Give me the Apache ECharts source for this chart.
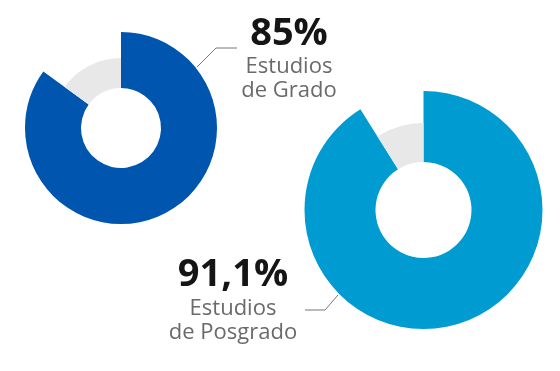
<!DOCTYPE html>
<html><head><meta charset="utf-8">
<script src="https://cdn.jsdelivr.net/npm/echarts@6/dist/echarts.min.js"></script>
<style>html,body{margin:0;padding:0;background:#fff}#c{width:560px;height:371px}</style>
</head><body><div id="c"></div>
<script>
const categories = ['Estudios de Grado', 'Estudios de Posgrado'];
const percentValues = [85, 91.1];
const percentLabels = ['85%', '91,1%'];
const labelLine1 = ['Estudios', 'Estudios'];
const labelLine2 = ['de Grado', 'de Posgrado'];
const colors = ['#0055ae', '#009bd0'];
const restColor = '#e8e8e8';

const chart = echarts.init(document.getElementById('c'), null, {renderer: 'canvas'});
const layouts = [
  {center: [121, 128], inner: 40, outer: 96, rest: 70},
  {center: [423.5, 210], inner: 48, outer: 119, rest: 87}
];
const series = [];
percentValues.forEach((v, i) => {
  const L = layouts[i];
  series.push({
    type: 'pie', silent: true, animation: false, startAngle: 90, clockwise: true,
    center: L.center, radius: [L.inner, L.outer], label: {show: false}, labelLine: {show: false},
    data: [
      {name: categories[i], value: v, itemStyle: {color: colors[i]}},
      {name: 'rest', value: 100 - v, itemStyle: {color: 'rgba(0,0,0,0)'}}
    ]
  });
  series.push({
    type: 'pie', silent: true, animation: false, startAngle: 90, clockwise: true,
    center: L.center, radius: [L.inner, L.rest], label: {show: false}, labelLine: {show: false},
    data: [
      {name: categories[i], value: v, itemStyle: {color: 'rgba(0,0,0,0)'}},
      {name: 'rest', value: 100 - v, itemStyle: {color: restColor}}
    ]
  });
});

const textPos = [
  {x: 289, yPct: 34, y1: 67, y2: 91},
  {x: 233, yPct: 275, y1: 309, y2: 333}
];
const graphic = [];
textPos.forEach((p, i) => {
  graphic.push({type: 'text', x: p.x, y: p.yPct, style: {text: percentLabels[i], font: 'bold 38px "Open Sans"', fill: '#151515', textAlign: 'center', textVerticalAlign: 'middle'}});
  graphic.push({type: 'text', x: p.x, y: p.y1, style: {text: labelLine1[i], font: '22px "Open Sans"', fill: '#6a6a6a', textAlign: 'center', textVerticalAlign: 'middle'}});
  graphic.push({type: 'text', x: p.x, y: p.y2, style: {text: labelLine2[i], font: '22px "Open Sans"', fill: '#6a6a6a', textAlign: 'center', textVerticalAlign: 'middle'}});
});
graphic.push({type: 'polyline', shape: {points: [[197, 67], [216, 48], [237, 48]]}, style: {stroke: '#777', lineWidth: 1, fill: null}});
graphic.push({type: 'polyline', shape: {points: [[305, 310], [325, 310], [338, 295]]}, style: {stroke: '#777', lineWidth: 1, fill: null}});

chart.setOption({backgroundColor: '#fff', animation: false, series: series, graphic: graphic});
</script></body></html>
